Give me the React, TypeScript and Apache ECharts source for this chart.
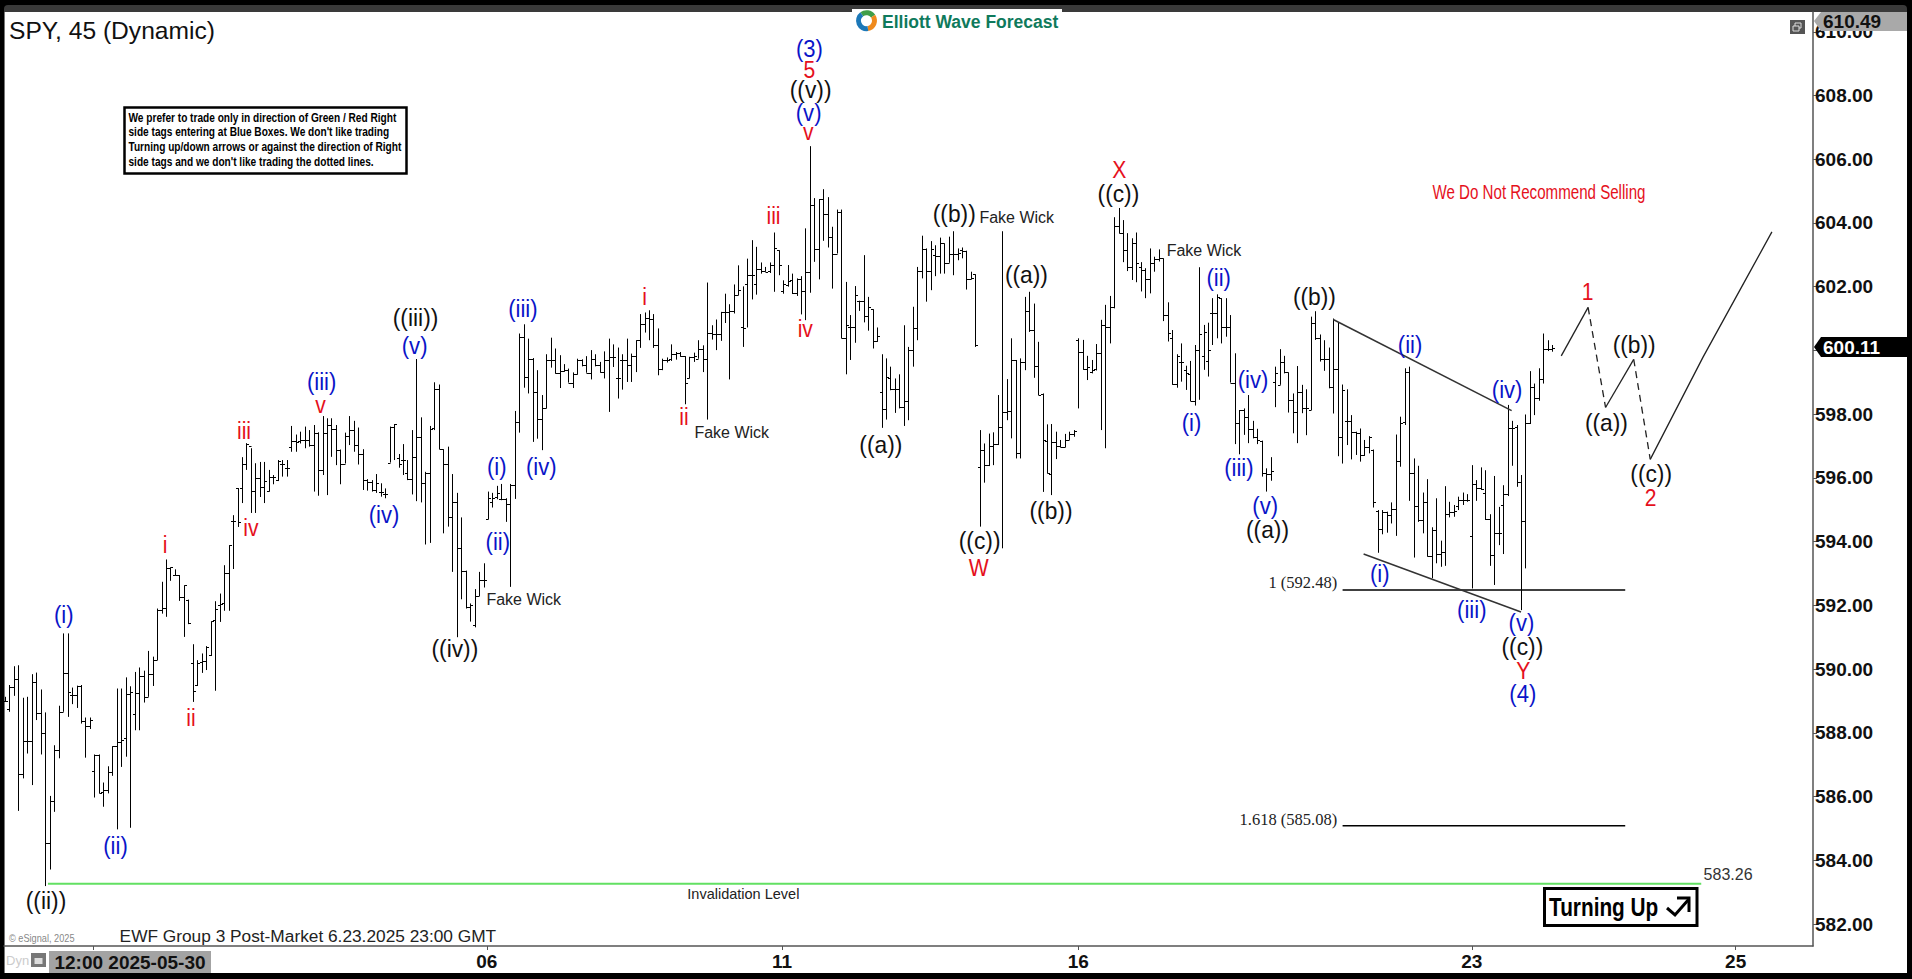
import React, { useEffect, useRef } from "react";
import * as echarts from "echarts";

const opens = [
589.0,588.76,589.44,589.68,586.72,587.75,587.73,589.58,588.63,588.0,
584.55,585.87,587.46,588.64,589.88,589.18,589.18,589.48,588.38,588.22,
586.8,587.3,586.15,586.22,586.78,587.58,587.72,587.85,589.23,588.58,
589.26,589.79,589.13,589.83,590.28,591.85,591.93,593.16,592.95,592.95,
592.27,592.18,590.18,589.5,590.23,590.26,590.44,591.54,592.0,592.06,
593.0,594.65,595.68,595.68,596.43,597.0,595.6,596.0,595.7,595.6,
596.04,595.93,596.45,596.3,596.98,597.17,597.17,597.19,597.19,597.03,
597.42,596.25,597.4,597.66,597.52,596.87,596.45,597.31,597.5,597.03,
596.75,595.93,595.88,595.62,595.57,595.49,596.48,597.61,596.61,596.56,
596.14,595.98,596.66,597.29,595.85,596.16,597.55,598.78,596.9,596.45,
594.78,595.23,593.79,593.09,591.94,591.38,592.29,592.79,594.7,595.23,
595.41,595.33,595.33,595.18,595.78,597.74,600.41,599.17,599.74,598.68,
597.84,598.18,599.71,599.71,599.3,599.36,599.4,598.99,599.25,599.69,
599.53,599.3,599.74,599.53,599.33,599.71,599.78,599.15,599.71,599.71,
599.53,599.82,600.32,600.82,601.03,600.98,600.18,599.41,599.71,599.74,
599.88,599.92,599.82,599.12,599.8,599.74,600.04,599.74,600.56,600.51,
600.51,601.19,601.19,601.24,601.73,600.74,602.08,602.38,602.08,602.54,
602.5,602.5,602.67,603.14,601.87,602.05,602.2,601.81,602.23,601.86,
602.45,604.56,603.17,604.74,604.28,603.57,603.04,604.35,600.4,600.74,
600.74,601.56,601.56,601.08,601.29,600.3,598.68,598.15,599.12,598.79,
598.79,598.21,598.41,600.01,600.71,602.49,603.17,602.49,602.99,602.97,
603.36,602.75,603.04,603.04,603.15,603.13,602.23,602.39,596.33,596.87,
596.4,597.0,597.06,597.6,598.07,598.1,599.7,596.77,599.64,601.24,
600.64,599.51,598.63,597.17,596.11,597.14,597.0,596.98,597.19,597.38,
600.33,599.96,599.41,599.33,599.41,599.91,600.8,600.75,601.35,603.9,
603.68,603.15,602.61,603.38,602.63,602.52,602.23,602.75,602.86,602.89,
601.11,600.38,598.95,599.65,599.39,599.25,598.41,600.0,599.81,599.67,
601.17,601.17,601.64,600.73,600.73,598.99,597.71,598.13,597.9,597.54,
597.27,597.17,596.14,596.11,599.02,598.92,599.65,599.31,598.45,598.08,
598.68,598.18,598.13,600.85,600.38,599.72,599.72,598.86,599.41,597.29,
597.79,597.79,597.43,597.4,596.72,596.98,596.89,594.97,594.41,594.94,
594.83,595.01,596.53,597.76,599.33,596.14,595.12,594.68,595.23,593.55,
594.38,593.61,593.66,594.86,594.94,595.12,595.3,595.3,594.18,595.81,
595.67,595.51,594.71,593.58,594.26,595.15,595.48,597.55,597.61,595.88,
594.66,597.71,598.84,598.5,599.09,600.06,600.06,
];

const highs = [
589.13,589.5,590.09,590.12,589.1,589.13,589.84,589.89,589.36,588.64,
586.02,587.61,588.85,591.12,591.12,589.42,589.48,589.5,588.48,588.48,
587.32,587.32,586.44,586.95,587.58,589.39,589.39,589.74,589.46,589.91,
590.05,589.95,590.57,590.39,591.9,592.74,593.44,593.19,593.13,592.95,
592.63,592.18,590.78,590.28,590.49,590.72,591.5,592.13,592.37,593.26,
593.89,594.83,595.68,596.65,597.09,596.93,596.46,596.5,596.5,596.25,
596.09,596.56,596.56,596.56,597.63,597.36,597.45,597.61,597.5,597.66,
597.43,597.94,597.87,597.87,597.66,596.89,597.42,597.94,597.79,597.58,
596.9,595.96,595.93,596.12,595.83,595.67,597.61,597.69,596.75,597.06,
596.56,597.5,599.73,597.9,596.19,597.63,599.0,598.93,596.9,596.98,
596.12,595.53,594.76,593.09,592.06,592.51,593.05,593.32,595.57,595.53,
595.75,595.81,595.36,595.81,598.1,600.53,600.82,600.37,599.76,599.38,
598.6,599.88,600.4,600.06,599.85,599.57,599.43,599.31,599.74,599.72,
599.82,600.01,599.88,599.64,599.97,600.37,600.19,600.09,599.88,600.37,
599.9,600.32,601.14,601.19,601.26,601.14,600.69,599.74,599.78,600.19,
599.95,599.95,599.82,599.8,599.93,600.32,600.16,602.13,600.79,600.97,
601.21,601.78,601.45,602.07,602.67,602.01,602.88,603.46,603.25,602.76,
602.62,602.76,603.7,603.14,602.2,602.68,602.41,602.26,602.33,603.83,
606.41,604.78,604.75,605.06,604.81,603.88,604.42,604.42,602.15,601.11,
602.02,601.56,602.99,601.68,601.29,600.72,599.88,599.75,599.49,599.12,
599.25,600.79,600.11,601.37,602.62,603.6,603.2,603.43,603.3,603.54,
603.36,603.57,603.74,603.2,603.23,603.13,602.47,602.39,597.5,597.08,
597.39,597.43,598.6,603.74,599.1,600.38,599.7,599.75,601.68,601.84,
601.47,600.27,598.65,597.68,597.69,597.45,597.19,597.38,597.45,597.5,
600.38,600.33,599.83,599.7,600.2,600.96,601.43,601.71,604.18,604.47,
604.09,603.68,603.52,603.7,602.77,602.58,603.2,602.94,603.17,602.89,
601.51,600.64,599.88,600.22,599.52,599.67,600.17,602.61,600.8,600.87,
601.64,601.76,601.64,601.64,601.11,599.91,598.13,598.18,598.6,597.79,
597.54,597.17,596.3,596.65,599.49,600.04,599.83,599.31,598.65,599.51,
598.92,598.78,601.06,601.23,600.5,600.32,600.09,601.0,600.87,598.93,
598.78,597.97,597.45,597.55,597.19,597.31,596.89,594.99,594.99,594.94,
595.23,597.36,597.92,599.44,599.49,596.61,596.38,595.54,595.96,594.45,
595.36,594.03,595.74,595.25,595.15,595.41,595.54,595.49,596.4,595.93,
596.33,596.24,594.86,596.06,595.09,595.77,598.29,597.79,597.66,596.09,
597.99,599.35,598.96,599.44,600.53,600.32,600.17,
];

const lows = [
588.97,588.66,589.16,585.55,586.57,587.35,586.36,588.4,587.32,583.19,
583.71,585.52,587.2,588.66,588.5,588.9,588.78,588.29,587.22,588.12,
585.97,586.1,585.68,586.1,586.65,584.97,586.93,587.25,585.02,588.08,
588.08,588.95,589.13,589.47,590.28,591.74,591.64,592.77,592.93,592.14,
591.01,591.41,588.97,589.47,589.88,589.97,590.41,589.32,591.48,591.83,
591.83,593.14,594.46,595.21,596.25,594.9,594.9,595.4,595.21,595.57,
595.8,595.9,596.04,596.04,596.82,596.82,597.08,596.93,596.98,595.57,
595.44,596.09,595.46,596.66,596.4,595.8,596.45,597.03,596.82,596.42,
595.62,595.6,595.57,595.53,595.41,595.36,596.48,596.56,596.32,596.09,
595.93,595.48,595.27,595.23,593.91,593.96,597.5,596.9,594.26,594.47,
593.05,591.0,592.19,591.9,591.49,591.31,592.29,592.56,594.7,595.07,
595.33,595.3,594.62,592.58,595.34,597.42,598.83,598.65,597.13,597.23,
596.87,598.18,599.46,599.27,598.82,599.33,598.99,598.82,599.24,599.5,
599.3,599.09,599.5,599.3,599.12,598.07,599.48,598.49,598.77,599.01,
599.01,599.32,600.08,600.56,600.32,600.08,599.22,599.38,599.62,599.67,
599.71,599.8,598.31,599.12,599.64,599.74,599.32,597.83,600.34,600.01,
600.3,600.86,599.09,601.16,601.73,600.11,600.72,601.6,601.75,602.41,
602.47,602.43,601.84,602.36,601.78,602.0,601.77,601.71,601.13,600.95,
601.81,602.78,602.23,603.44,603.23,601.94,603.04,600.38,599.25,599.7,
600.24,601.24,600.88,600.62,600.06,600.27,597.57,597.83,598.75,598.04,
598.18,597.63,597.81,599.49,600.32,602.26,601.53,601.89,602.33,602.41,
602.41,602.75,602.36,602.83,602.89,601.91,602.23,600.11,594.47,595.85,
596.37,596.4,597.03,593.79,597.81,597.24,596.61,596.61,599.38,600.58,
599.14,598.6,595.56,596.14,595.46,596.59,596.96,596.96,597.19,597.29,
598.18,599.39,599.07,599.28,599.37,597.5,596.93,600.22,601.32,603.67,
602.77,602.49,602.21,602.14,601.85,601.64,601.79,602.47,602.79,600.92,
600.28,598.92,598.83,599.02,598.76,598.41,598.27,598.45,599.39,599.18,
600.17,600.38,600.22,600.43,598.99,597.06,596.74,597.35,597.09,597.24,
597.06,596.04,595.57,595.91,598.22,598.92,599.28,598.05,597.4,597.09,
598.03,597.34,598.13,600.33,599.65,599.36,598.81,598.02,596.68,596.45,
597.03,596.58,596.72,596.51,596.69,596.77,595.07,593.65,594.23,594.28,
594.57,594.18,596.35,597.66,595.28,593.5,594.62,594.26,593.53,592.85,
593.32,593.21,593.24,594.76,594.78,594.99,595.15,595.25,592.53,595.28,
595.62,594.68,593.24,592.64,593.89,593.61,595.43,596.38,595.72,591.85,
593.16,597.69,597.97,598.42,598.96,599.98,599.96,
];

const closes = [
589.0,589.44,589.68,586.72,587.75,587.73,589.58,588.63,588.0,584.55,
585.87,587.46,588.64,589.88,589.29,589.18,589.48,588.38,588.22,588.4,
587.3,586.1,586.22,586.78,587.58,587.72,587.79,589.23,589.27,589.26,
589.79,589.13,589.83,590.28,591.85,591.93,593.16,593.19,592.95,592.27,
592.63,591.45,589.32,590.18,590.26,590.7,591.51,591.9,592.04,593.0,
593.89,594.65,594.6,596.43,597.05,595.6,596.0,595.7,595.9,596.04,
596.04,596.53,596.45,596.3,597.17,597.14,597.19,597.19,597.03,597.42,
596.25,597.4,597.66,597.52,596.87,596.45,597.31,597.5,597.03,596.75,
595.93,595.88,595.62,595.83,595.57,595.49,597.61,597.69,596.45,596.56,
595.98,596.66,597.29,595.85,596.16,597.52,598.78,596.9,596.45,594.78,
595.23,593.79,593.09,591.94,592.01,592.29,592.79,592.81,595.36,595.36,
595.51,595.33,595.18,595.78,597.74,600.41,599.17,599.74,598.68,597.84,
598.18,599.71,599.71,599.3,599.36,599.4,598.99,599.25,599.69,599.53,
599.3,599.74,599.53,599.33,599.71,599.78,599.8,599.15,599.71,599.53,
599.82,600.32,600.82,601.03,600.98,600.18,599.41,599.71,599.71,599.88,
599.92,599.82,598.99,599.78,599.82,600.04,599.74,600.56,600.51,600.51,
601.19,601.19,601.24,601.73,601.91,600.69,602.38,602.38,602.54,602.5,
602.47,602.67,603.2,602.69,602.07,602.18,601.81,602.23,601.86,602.45,
604.56,603.17,604.74,604.28,603.57,603.04,604.35,600.4,600.79,600.74,
601.74,601.56,601.08,601.35,600.3,600.46,598.15,599.17,598.79,598.79,
598.21,598.41,600.01,600.71,602.49,603.17,602.49,603.17,602.97,603.36,
602.75,603.04,603.04,603.06,603.13,602.23,602.26,600.17,596.87,596.4,
597.0,597.06,597.6,598.07,598.1,599.7,596.77,599.64,601.24,600.64,
599.51,598.6,597.2,596.14,597.14,597.0,596.98,597.19,597.38,597.48,
599.96,599.41,599.47,599.37,599.91,600.8,600.75,601.35,603.9,603.68,
603.15,602.61,603.38,602.73,602.52,602.23,602.75,602.86,602.89,601.11,
600.54,598.95,599.81,599.63,599.28,598.41,600.01,600.52,600.57,600.0,
601.17,601.67,600.73,600.73,598.99,597.71,598.13,597.9,597.54,597.27,
597.19,596.14,596.11,596.22,599.3,599.65,599.31,598.45,598.08,598.68,
598.18,598.18,600.85,600.38,599.72,599.72,598.86,599.41,597.29,598.76,
597.79,597.43,597.4,596.72,596.98,597.29,595.23,594.41,594.94,594.83,
595.01,596.53,597.71,599.33,596.14,595.12,594.68,595.23,593.55,594.38,
593.61,593.66,594.86,594.94,594.97,595.3,595.3,595.3,595.81,595.67,
595.65,594.71,593.58,594.26,594.26,595.48,597.55,597.55,595.88,594.66,
597.71,598.84,598.5,599.09,600.06,600.06,600.08,
];

// tick labels
const priceTicks = [582,584,586,588,590,592,594,596,598,600,602,604,606,608,610];
const hiddenPriceLabels = [600];
const dayTicks: [number, string][] = [[19.8,""],[107.75,"06"],[173.75,"11"],[240,"16"],[328,"23"],[387,"25"]];

// price levels and drawn lines: [bar position, price]
const invalidation = [[9.6,583.26],[379.3,583.26]];
const fib100 = [[299.1,592.48],[362.3,592.48]];
const fib1618 = [[299.1,585.08],[362.3,585.08]];
const upperTrend = [[297.0,600.97],[336.9,598.11]];
const lowerTrend = [[303.8,593.61],[339.0,591.79]];
const forecastSolid = [
  [[348.0,599.83],[354.0,601.35]],
  [[357.9,598.21],[364.2,599.72]],
  [[367.9,596.58],[379.7,599.79],[388.8,602.11],[395.1,603.72]],
];
const forecastDash = [
  [[354.0,601.35],[357.9,598.21]],
  [[364.2,599.72],[367.9,596.58]],
];

// wave labels: [text, bar position, price]
type L = [string, number, number];
const blackLabels: L[] = [
  ["((ii))",9.17,582.73],["((iii))",91.8,601.01],["((iv))",100.6,590.63],["((v))",180.14,608.17],
  ["((a))",195.84,597.05],["((b))",212.27,604.28],["((c))",217.93,594.03],["((a))",228.4,602.36],
  ["((b))",233.9,594.96],["((c))",248.97,604.93],["((a))",282.3,594.36],["((b))",292.8,601.68],
  ["((c))",339.3,590.7],["((a))",358.1,597.74],["((b))",364.3,600.19],["((c))",368.1,596.14],
];
const blueLabels: L[] = [
  ["(i)",13.13,591.7],["(ii)",24.71,584.45],["(iii)",70.8,599.02],["(iv)",84.75,594.86],["(v)",91.6,600.15],
  ["(i)",109.95,596.35],["(ii)",110.2,594.0],["(iii)",115.8,601.32],["(iv)",119.9,596.35],
  ["(3)",179.87,609.48],["(v)",179.7,607.47],["(i)",265.3,597.74],["(ii)",271.4,602.28],["(iii)",275.9,596.32],
  ["(iv)",279.07,599.09],["(v)",281.8,595.13],["(i)",307.4,593.0],["(ii)",314.2,600.19],["(iii)",328.0,591.87],
  ["(iv)",335.9,598.76],["(v)",339.1,591.47],["(4)",339.4,589.22],
];
const redLabels: L[] = [
  ["i",35.78,593.89],["ii",41.59,588.46],["iii",53.44,597.48],["iv",55.0,594.43],["v",70.53,598.28],
  ["i",143.0,601.68],["ii",151.83,597.9],["iii",171.85,604.22],["iv",178.95,600.66],["v",179.6,606.84],
  ["5",179.87,608.8],["W",217.75,593.18],["X",249.15,605.66],["Y",339.5,589.95],["1",353.9,601.84],["2",368.0,595.36],
];
const fakeWickLabels: L[] = [
  ["Fake Wick",116.0,592.17],["Fake Wick",162.5,597.43],["Fake Wick",226.23,604.17],["Fake Wick",268.1,603.15],
];
const invalidationLabel: L[] = [["Invalidation Level",165.1,582.94]];
const invalidationPrice: L[] = [["583.26",385.3,583.54]];
const fibLabels: L[] = [["1 (592.48)",297.9,592.71],["1.618 (585.08)",297.9,585.29]];

const noteLines = [
  "We prefer to trade only in direction of Green / Red Right",
  "side tags entering at Blue Boxes. We don't like trading",
  "Turning up/down arrows or against the direction of Right",
  "side tags and we don't like trading the dotted lines.",
];

const SANS = '"Liberation Sans", Arial, sans-serif';
const SERIF = '"Liberation Serif", serif';

function textSeries(list: L[], color: string, font: string, align = "center", scaleX = 1) {
  return {
    type: "custom",
    silent: true,
    clip: false,
    z: 6,
    encode: { x: 0, y: 1 },
    data: list.map((l) => [l[1], l[2]]),
    renderItem: (params: any, api: any) => {
      const p = api.coord([api.value(0), api.value(1)]);
      return {
        type: "text",
        x: p[0],
        y: p[1],
        scaleX,
        style: { text: list[params.dataIndex][0], fill: color, font, align, verticalAlign: "middle" },
      };
    },
  };
}

function lineSeries(data: number[][], color: string, width: number, dashed = false) {
  return {
    type: "line",
    silent: true,
    symbol: "none",
    clip: false,
    z: 4,
    data,
    lineStyle: { color, width, type: dashed ? [7, 5] : "solid" },
  };
}

function buildOption() {
  const bars = opens.map((o, i) => [i, o, highs[i], lows[i], closes[i]]);
  const ticks: Record<string, string> = {};
  dayTicks.forEach(([v, t]) => (ticks[String(v)] = t));
  const priceTag = (value: string, y0: number, y1: number, yMid: number, fill: string, color: string) => [
    { type: "polygon", z: 100, shape: { points: [[1814, yMid], [1821, y0], [1907, y0], [1907, y1], [1821, y1]] }, style: { fill } },
    { type: "text", z: 101, x: 1823, y: yMid, style: { text: value, fill: color, font: `bold 19px ${SANS}`, verticalAlign: "middle" } },
  ];
  return {
    animation: false,
    backgroundColor: "transparent",
    grid: { left: 4, top: 12, width: 1809, height: 934 },
    xAxis: {
      type: "value",
      min: -0.224,
      max: 404.29,
      splitLine: { show: false },
      axisLine: { show: true, onZero: false, lineStyle: { color: "#555", width: 1.5 } },
      axisTick: { show: true, length: 4, lineStyle: { color: "#555" }, customValues: dayTicks.map((d) => d[0]) },
      axisLabel: {
        customValues: dayTicks.map((d) => d[0]),
        formatter: (v: number) => ticks[String(v)] ?? "",
        color: "#111",
        fontFamily: SANS,
        fontWeight: "bold",
        fontSize: 19,
        margin: 6,
      },
    },
    yAxis: {
      type: "value",
      position: "right",
      min: 581.31,
      max: 610.62,
      splitLine: { show: false },
      axisLine: { show: true, onZero: false, lineStyle: { color: "#555", width: 1.5 } },
      axisTick: { show: true, length: 4, lineStyle: { color: "#555" }, customValues: priceTicks },
      axisLabel: {
        customValues: priceTicks.filter((v) => !hiddenPriceLabels.includes(v)),
        formatter: (v: number) => v.toFixed(2),
        color: "#111",
        fontFamily: SANS,
        fontWeight: "bold",
        fontSize: 19,
        margin: 2,
      },
    },
    series: [
      {
        type: "custom",
        silent: true,
        clip: false,
        z: 3,
        encode: { x: 0, y: [1, 2, 3, 4] },
        data: bars,
        renderItem: (_p: any, api: any) => {
          const i = api.value(0);
          const snap = (v: number) => Math.round(v) + 0.5;
          const x = snap(api.coord([i, 0])[0]);
          const yo = snap(api.coord([i, api.value(1)])[1]);
          const yh = api.coord([i, api.value(2)])[1];
          const yl = api.coord([i, api.value(3)])[1];
          const yc = snap(api.coord([i, api.value(4)])[1]);
          const style = { stroke: "#000", lineWidth: 1 };
          return {
            type: "group",
            children: [
              { type: "line", shape: { x1: x, y1: yh, x2: x, y2: yl }, style },
              { type: "line", shape: { x1: x - 2.5, y1: yo, x2: x, y2: yo }, style },
              { type: "line", shape: { x1: x, y1: yc, x2: x + 2.5, y2: yc }, style },
            ],
          };
        },
      },
      lineSeries(invalidation, "#62e062", 2),
      lineSeries(fib100, "#000", 1.5),
      lineSeries(fib1618, "#000", 1.5),
      lineSeries(upperTrend, "#333", 1.5),
      lineSeries(lowerTrend, "#333", 1.5),
      ...forecastSolid.map((d) => lineSeries(d, "#222", 1.3)),
      ...forecastDash.map((d) => lineSeries(d, "#222", 1.3, true)),
      textSeries(blackLabels, "#111", `24px ${SANS}`, "center", 0.95),
      textSeries(blueLabels, "#0a14c8", `24px ${SANS}`, "center", 0.92),
      textSeries(redLabels, "#e5101c", `24px ${SANS}`, "center", 0.88),
      textSeries(fakeWickLabels, "#222", `16px ${SANS}`),
      textSeries(invalidationLabel, "#222", `14.5px ${SANS}`),
      textSeries(invalidationPrice, "#333", `16px ${SANS}`),
      textSeries(fibLabels, "#222", `16.5px ${SERIF}`, "right"),
    ],
    graphic: [
      { type: "text", z: 50, x: 9, y: 30, style: { text: "SPY, 45 (Dynamic)", fill: "#111", font: `24.6px ${SANS}`, verticalAlign: "middle" } },
      // logo
      { type: "rect", z: 50, shape: { x: 852, y: 9, width: 210, height: 23 }, style: { fill: "#fff" } },
      { type: "sector", z: 51, shape: { cx: 866.5, cy: 20.7, r: 10.5, r0: 5.5, startAngle: -2.2, endAngle: -0.6 }, style: { fill: "#3f9d48" } },
      { type: "sector", z: 51, shape: { cx: 866.5, cy: 20.7, r: 10.5, r0: 5.5, startAngle: -0.6, endAngle: 1.4 }, style: { fill: "#ef8a1d" } },
      { type: "sector", z: 51, shape: { cx: 866.5, cy: 20.7, r: 10.5, r0: 5.5, startAngle: 1.4, endAngle: 4.08 }, style: { fill: "#1c78b8" } },
      { type: "text", z: 51, x: 882, y: 21.5, style: { text: "Elliott Wave Forecast", fill: "#0f7a5c", font: `bold 17.5px ${SANS}`, verticalAlign: "middle" } },
      // note box
      { type: "rect", z: 50, shape: { x: 124.5, y: 107.5, width: 282, height: 66 }, style: { fill: "#fff", stroke: "#000", lineWidth: 2.5 } },
      ...noteLines.map((t, i) => ({
        type: "text",
        z: 51,
        x: 128.5,
        y: 117.5 + i * 14.6,
        scaleX: 0.81,
        style: { text: t, fill: "#000", font: `bold 12.5px ${SANS}`, verticalAlign: "middle" },
      })),
      // recommendation
      { type: "text", z: 50, x: 1539, y: 191.7, scaleX: 0.72, style: { text: "We Do Not Recommend Selling", fill: "#e5101c", font: `21px ${SANS}`, align: "center", verticalAlign: "middle" } },
      // window icon
      { type: "rect", z: 50, shape: { x: 1790, y: 20, width: 15, height: 14 }, style: { fill: "#555" } },
      { type: "rect", z: 51, shape: { x: 1795, y: 23, width: 6, height: 5 }, style: { fill: "none", stroke: "#ddd", lineWidth: 1 } },
      { type: "rect", z: 51, shape: { x: 1793, y: 26, width: 6, height: 5 }, style: { fill: "#555", stroke: "#ddd", lineWidth: 1 } },
      // price tags
      ...priceTag("610.49", 12, 31, 21, "#a9a9a9", "#111"),
      ...priceTag("600.11", 337, 357, 347, "#000", "#fff"),
      // turning up box
      { type: "rect", z: 50, shape: { x: 1544.5, y: 888.5, width: 152.5, height: 37 }, style: { fill: "#fff", stroke: "#000", lineWidth: 3 } },
      { type: "text", z: 51, x: 1549, y: 907, scaleX: 0.8, style: { text: "Turning Up", fill: "#000", font: `bold 26px ${SANS}`, verticalAlign: "middle" } },
      { type: "polyline", z: 51, shape: { points: [[1667, 908], [1675, 915], [1689, 899]] }, style: { fill: "none", stroke: "#000", lineWidth: 3 } },
      { type: "polyline", z: 51, shape: { points: [[1677, 898], [1689, 898], [1689, 912]] }, style: { fill: "none", stroke: "#000", lineWidth: 3 } },
      // footer
      { type: "text", z: 50, x: 9, y: 938, scaleX: 0.92, style: { text: "© eSignal, 2025", fill: "#888", font: `10px ${SANS}`, verticalAlign: "middle" } },
      { type: "text", z: 50, x: 119.6, y: 936, style: { text: "EWF Group 3 Post-Market 6.23.2025 23:00 GMT", fill: "#222", font: `17.3px ${SANS}`, verticalAlign: "middle" } },
      { type: "text", z: 50, x: 6, y: 960, style: { text: "Dyn", fill: "#ccc", font: `13px ${SANS}`, verticalAlign: "middle" } },
      { type: "rect", z: 50, shape: { x: 31, y: 953, width: 15, height: 14 }, style: { fill: "#777" } },
      { type: "rect", z: 51, shape: { x: 34.5, y: 958, width: 8, height: 6 }, style: { fill: "#ddd" } },
      { type: "rect", z: 50, shape: { x: 49, y: 951, width: 162, height: 22 }, style: { fill: "#a3a3a3" } },
      { type: "text", z: 51, x: 130, y: 962, style: { text: "12:00 2025-05-30", fill: "#111", font: `bold 19px ${SANS}`, align: "center", verticalAlign: "middle" } },
    ],
  };
}

export default function App() {
  const ref = useRef<HTMLDivElement>(null);
  useEffect(() => {
    const chart = echarts.init(ref.current!, undefined, { renderer: "svg" });
    chart.setOption(buildOption() as any);
    return () => chart.dispose();
  }, []);
  return (
    <div style={{ position: "fixed", left: 0, top: 0, width: 1912, height: 979, background: "#000", overflow: "hidden" }}>
      <div style={{ position: "absolute", left: 4, top: 5, width: 1903, height: 7, background: "#3a3a3a", borderTopLeftRadius: 4, borderTopRightRadius: 4 }} />
      <div style={{ position: "absolute", left: 4, top: 12, width: 1903, height: 961, background: "#fff", boxSizing: "border-box", borderLeft: "1px solid #777" }} />
      <div ref={ref} style={{ position: "absolute", left: 0, top: 0, width: 1912, height: 979 }} />
    </div>
  );
}
